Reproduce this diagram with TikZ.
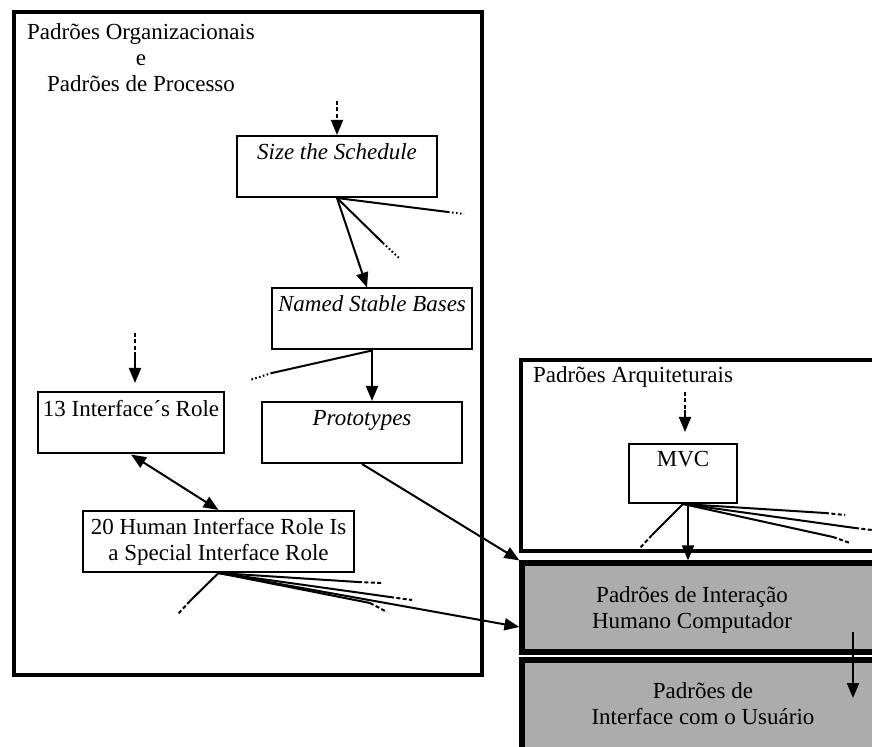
\documentclass[tikz,border=0pt]{standalone}
\usepackage{fontspec}
\setmainfont{Liberation Serif}
\usepackage{xcolor}
\usepackage{tikz}
\usetikzlibrary{arrows.meta}
\definecolor{layergray}{RGB}{172,172,172}

\begin{document}
\begin{tikzpicture}[x=0.5pt, y=-0.5pt,
  >={Triangle[length=7.5pt,width=6pt]},
  every node/.style={font=\fontsize{11.5}{13}\selectfont},
  patbox/.style={draw, line width=1pt, rectangle, minimum height=30.5pt, align=center, inner sep=0pt},
  layer/.style={draw, line width=2.6pt, rectangle, fill=layergray, minimum width=184pt},
  group/.style={line width=2.3pt},
  link/.style={line width=1pt},
  dashend/.style={line width=1pt, dash pattern=on 2pt off 1.2pt},
  dotend/.style={line width=1pt, dash pattern=on 0.8pt off 1.2pt}]
\useasboundingbox (0,0) rectangle (872,747);
\clip (0,0) rectangle (872,747);

% process / organizational patterns
\draw[group] (14,12) rectangle (482,675);
\node[align=center] (orgtitle) at (141,58) {Padrões Organizacionais\\e\\Padrões de Processo};

\node[patbox, minimum width=100pt] (size) at (337,166.5) {\textit{Size the Schedule}\\[2pt]};
\node[patbox, minimum width=100pt] (named) at (372,319) {\textit{Named Stable Bases}\\[2pt]};
\node[patbox, minimum width=100pt] (proto) at (362,432.5) {\textit{Prototypes}\\[2pt]};
\node[patbox, minimum width=93pt] (role13) at (131,423) {13 Interface´s Role\\[2pt]};
\node[patbox, minimum width=135.5pt] (role20) at (218.5,541.5) {20 Human Interface Role Is\\a Special Interface Role};

\coordinate (sizein) at (337,101);
\coordinate (sizemid) at (337,120);
\draw[dashend] (sizein) -- (sizemid);
\draw[link,->] (sizemid) -- (size.north);

\coordinate (sa) at (448,212);
\coordinate (sae) at (464,214);
\coordinate (sb) at (383,243);
\coordinate (sbe) at (399,258);
\draw[link] (size.south) -- (sa);
\draw[dotend] (sa) -- (sae);
\draw[link] (size.south) -- (sb);
\draw[dotend] (sb) -- (sbe);
\draw[link,->] (size.south) -- ([xshift=-2.5pt]named.north);

\coordinate (na) at (272,373);
\coordinate (nae) at (250,380);
\draw[link] (named.south) -- (na);
\draw[dotend] (na) -- (nae);
\draw[link,->] (named.south) -- (named.south |- proto.north);

\coordinate (rolein) at (135,333);
\coordinate (rolemid) at (135,353);
\coordinate (roleend) at (135,383);
\draw[dashend] (rolein) -- (rolemid);
\draw[link,->] (rolemid) -- (roleend);

\draw[link,<->] (role13.south) -- (role20.north);

\coordinate (ra) at (190,601);
\coordinate (rae) at (178,614);
\coordinate (rb) at (358,582);
\coordinate (rbe) at (382,583);
\coordinate (rc) at (390,597);
\coordinate (rce) at (412,600);
\coordinate (rd) at (370,603);
\coordinate (rde) at (387,612);
\draw[link] (role20.south) -- (ra);
\draw[dashend] (ra) -- (rae);
\draw[link] (role20.south) -- (rb);
\draw[dashend] (rb) -- (rbe);
\draw[link] (role20.south) -- (rc);
\draw[dashend] (rc) -- (rce);
\draw[link] (role20.south) -- (rd);
\draw[dashend] (rd) -- (rde);

% architectural patterns
\draw[group] (521,360) rectangle (900,551);
\node[anchor=west] (archtitle) at (526,377) {Padrões Arquiteturais};
\node[patbox, minimum width=54pt, minimum height=29.5pt] (mvc) at (683,473.5) {MVC\\[2pt]};

\coordinate (mvcin) at (685,392);
\coordinate (mvcmid) at (685,410);
\coordinate (mvcend) at (685,432);
\draw[dashend] (mvcin) -- (mvcmid);
\draw[link,->] (mvcmid) -- (mvcend);

\coordinate (ma) at (652,535);
\coordinate (mae) at (640,548);
\coordinate (mb) at (825,513);
\coordinate (mbe) at (845,515);
\coordinate (mc) at (855,528);
\coordinate (mce) at (872,530);
\coordinate (md) at (833,537);
\coordinate (mde) at (850,543);
\draw[link] (mvc.south) -- (ma);
\draw[dashend] (ma) -- (mae);
\draw[link] (mvc.south) -- (mb);
\draw[dashend] (mb) -- (mbe);
\draw[link] (mvc.south) -- (mc);
\draw[dashend] (mc) -- (mce);
\draw[link] (mvc.south) -- (md);
\draw[dashend] (md) -- (mde);

% HCI and UI pattern layers
\node[layer, minimum height=44.5pt] (ihc) at (706,607.5) {};
\node[layer, minimum height=55pt] (ui) at (706,715) {};
\node[align=center] (ihctext) at (692,610) {Padrões de Interação\\Humano Computador};
\node[align=center] (uitext) at (703,703.5) {Padrões de\\Interface com o Usuário};

\draw[link,->] ([xshift=2.5pt]mvc.south) -- ([xshift=2.5pt]mvc.south |- ihc.north);
\draw[link,->] (proto.south) -- (ihc.north west);
\draw[link,->] (role20.south) -- ([yshift=-9.75pt]ihc.west);

\coordinate (layerin) at (853,632);
\coordinate (layerend) at (853,698);
\draw[link,->] (layerin) -- (layerend);
\end{tikzpicture}
\end{document}
